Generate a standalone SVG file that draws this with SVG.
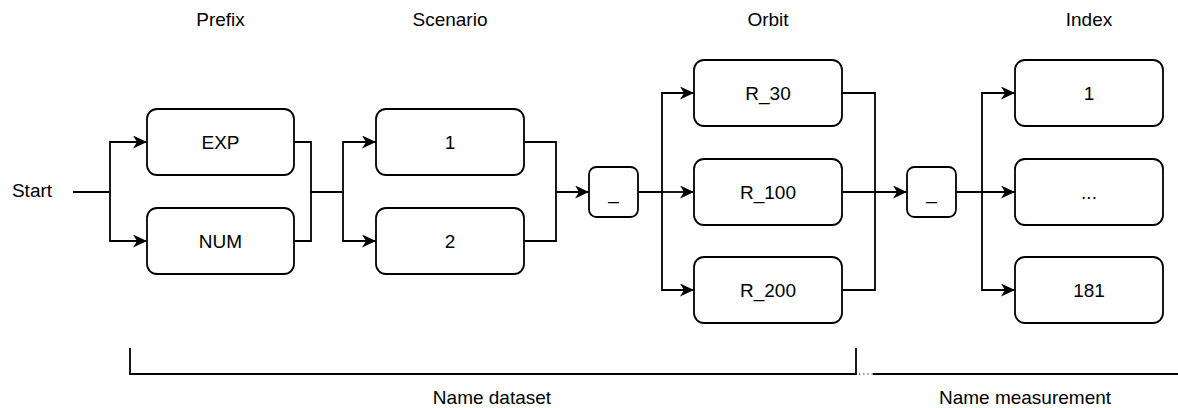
<svg xmlns="http://www.w3.org/2000/svg" width="1178" height="408" viewBox="0 0 1178 408">
<style>
.box{fill:#fff;stroke:#000;stroke-width:1.8}
.t{font-family:"Liberation Sans",Arial,sans-serif;font-size:19px;fill:#000;text-anchor:middle}
.c{fill:none;stroke:#000;stroke-width:1.8}
</style>
<defs>
<marker id="arr" markerUnits="userSpaceOnUse" markerWidth="15" markerHeight="14" refX="14" refY="6.5" orient="auto">
<path d="M0,0 L14,6.5 L0,13 L4,6.5 Z" fill="#000"/>
</marker>
</defs>
<rect width="1178" height="408" fill="#fff"/>
<g id="labels">
<text class="t" x="220.5" y="26">Prefix</text>
<text class="t" x="450" y="26">Scenario</text>
<text class="t" x="768" y="26">Orbit</text>
<text class="t" x="1089" y="26">Index</text>
<text class="t" x="32" y="197">Start</text>
</g>
<g id="connectors">
<path class="c" d="M73 192 H110 V142 H147" marker-end="url(#arr)"/>
<path class="c" d="M110 192 V241 H147" marker-end="url(#arr)"/>
<path class="c" d="M294 142 H311 V241 H294"/>
<path class="c" d="M311 192 H343 V142 H376" marker-end="url(#arr)"/>
<path class="c" d="M343 192 V241 H376" marker-end="url(#arr)"/>
<path class="c" d="M524 142 H556 V241 H524"/>
<path class="c" d="M556 192 H589" marker-end="url(#arr)"/>
<path class="c" d="M638 192 H662 V93 H694" marker-end="url(#arr)"/>
<path class="c" d="M662 192 H694" marker-end="url(#arr)"/>
<path class="c" d="M662 192 V290 H694" marker-end="url(#arr)"/>
<path class="c" d="M842 93 H875 V290 H842"/>
<path class="c" d="M842 192 H907" marker-end="url(#arr)"/>
<path class="c" d="M956 192 H982 V93 H1015" marker-end="url(#arr)"/>
<path class="c" d="M982 192 H1015" marker-end="url(#arr)"/>
<path class="c" d="M982 192 V290 H1015" marker-end="url(#arr)"/>
</g>
<g id="n-exp"><rect class="box" x="147" y="109" width="147" height="66" rx="10"/><text class="t" x="220.5" y="149">EXP</text></g>
<g id="n-num"><rect class="box" x="147" y="208" width="147" height="66" rx="10"/><text class="t" x="220.5" y="248">NUM</text></g>
<g id="n-s1"><rect class="box" x="376" y="109" width="148" height="66" rx="10"/><text class="t" x="450" y="149">1</text></g>
<g id="n-s2"><rect class="box" x="376" y="208" width="148" height="66" rx="10"/><text class="t" x="450" y="248">2</text></g>
<g id="n-sep1"><rect class="box" x="589" y="167" width="49" height="50" rx="7.5"/><text class="t" x="613.5" y="199">_</text></g>
<g id="n-r30"><rect class="box" x="694" y="60" width="148" height="66" rx="10"/><text class="t" x="768" y="100">R_30</text></g>
<g id="n-r100"><rect class="box" x="694" y="159" width="148" height="66" rx="10"/><text class="t" x="768" y="199">R_100</text></g>
<g id="n-r200"><rect class="box" x="694" y="257" width="148" height="66" rx="10"/><text class="t" x="768" y="297">R_200</text></g>
<g id="n-sep2"><rect class="box" x="907" y="167" width="49" height="50" rx="7.5"/><text class="t" x="931.5" y="199">_</text></g>
<g id="n-i1"><rect class="box" x="1015" y="60" width="148" height="66" rx="10"/><text class="t" x="1089" y="100">1</text></g>
<g id="n-idots"><rect class="box" x="1015" y="159" width="148" height="66" rx="10"/><text class="t" x="1089" y="199">...</text></g>
<g id="n-i181"><rect class="box" x="1015" y="257" width="148" height="66" rx="10"/><text class="t" x="1089" y="297">181</text></g>
<g id="brackets">
<path class="c" d="M130 348 V374 H856 V348"/>
<path fill="none" stroke="#000" stroke-width="1.2" stroke-dasharray="1.2 3" d="M859 374 H873"/>
<path class="c" d="M873 374 H1178"/>
<text class="t" x="492" y="404">Name dataset</text>
<text class="t" x="1025" y="404">Name measurement</text>
</g>
</svg>
